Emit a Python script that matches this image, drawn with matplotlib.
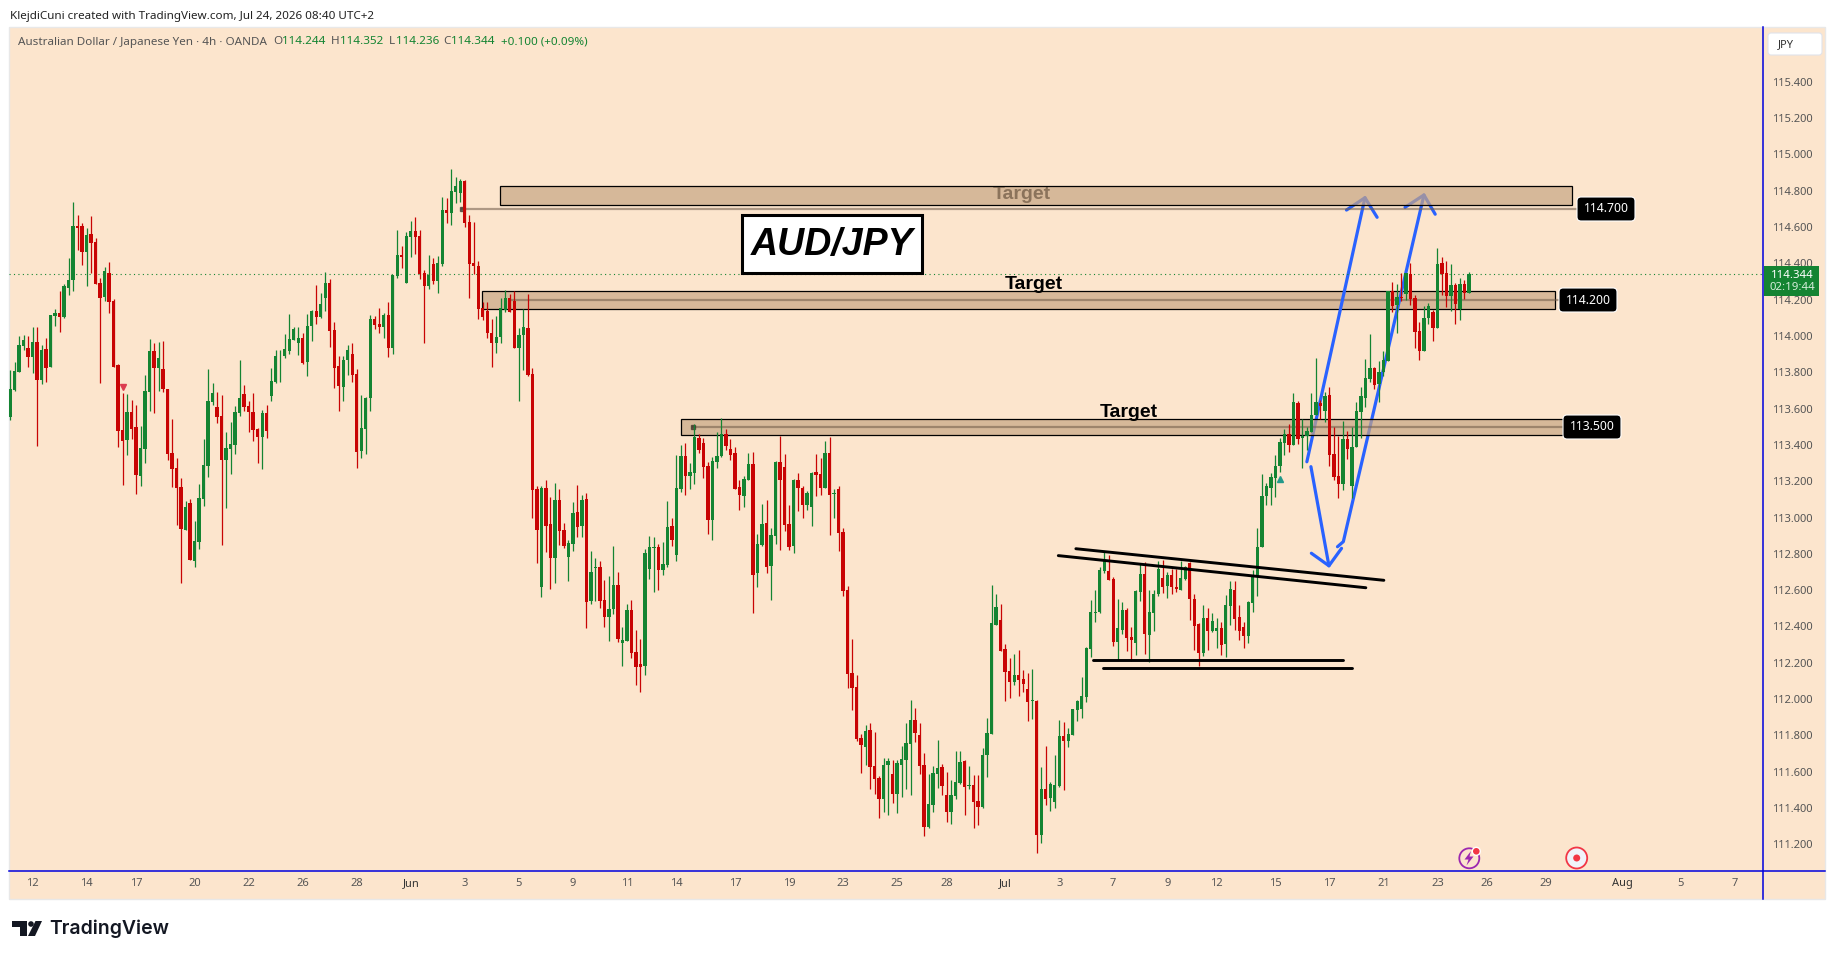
import matplotlib
matplotlib.use('Agg')
import matplotlib.pyplot as plt
from matplotlib.patches import Rectangle, FancyBboxPatch, Circle, Polygon

# OHLC, one value per bar
opens = [113.555,113.70,113.803,113.945,113.933,113.884,113.967,113.757,113.928,113.829,114.11,114.126,114.104,114.264,114.308,
114.606,114.606,114.462,114.562,114.517,114.292,114.214,114.347,114.192,113.840,113.482,113.427,113.581,113.498,113.228,
113.377,113.691,113.917,113.823,113.818,113.708,113.355,113.272,113.168,112.931,113.079,112.760,112.865,113.102,113.283,
113.636,113.608,113.559,113.316,113.377,113.399,113.575,113.680,113.614,113.581,113.487,113.443,113.576,113.670,113.747,
113.888,113.890,113.918,113.978,113.962,113.989,113.857,114.055,114.138,114.105,114.210,114.292,114.033,113.835,113.719,
113.868,113.901,113.791,113.367,113.488,113.659,114.094,114.066,114.050,114.116,113.934,114.331,114.447,114.292,114.546,
114.579,114.551,114.347,114.276,114.397,114.303,114.397,114.695,114.678,114.794,114.788,114.854,114.628,114.403,114.386,
114.155,114.138,114.017,113.962,113.995,114.144,114.210,114.193,113.934,114.006,114.044,113.791,113.157,112.617,113.163,
112.964,112.777,113.096,112.931,112.782,112.854,113.030,112.953,113.102,112.540,112.722,112.727,112.545,112.452,112.496,
112.628,112.309,112.320,112.490,112.259,112.193,112.182,112.716,112.832,112.837,112.711,112.738,112.953,112.793,113.157,
113.339,113.229,113.245,113.438,113.410,113.284,112.986,113.306,113.339,113.460,113.377,113.355,113.168,113.119,113.207,
113.295,112.694,112.848,112.970,112.733,112.898,113.306,113.278,112.964,112.843,113.207,113.163,113.069,113.058,113.251,
113.240,113.163,113.355,113.129,113.157,112.920,112.600,112.143,112.066,111.785,111.735,111.829,111.631,111.564,111.449,
111.636,111.587,111.476,111.636,111.664,111.752,111.884,111.801,111.636,111.294,111.416,111.587,111.625,111.471,111.377,
111.465,111.537,111.658,111.520,111.526,111.438,111.405,111.691,111.807,112.408,112.436,112.275,112.154,112.093,112.132,
112.110,112.055,111.989,111.989,111.250,111.504,111.454,111.432,111.520,111.796,111.768,111.801,111.939,111.945,112.011,
112.276,112.474,112.480,112.706,112.706,112.661,112.314,112.380,112.490,112.341,112.308,112.589,112.688,112.352,112.473,
112.578,112.666,112.622,112.683,112.617,112.600,112.661,112.749,112.551,112.413,112.253,112.446,112.374,112.374,112.391,
112.303,112.512,112.600,112.451,112.396,112.347,112.529,112.672,112.838,113.119,113.163,113.218,113.284,113.411,113.460,
113.400,113.631,113.438,113.449,113.471,113.565,113.631,113.587,113.675,113.350,113.229,113.185,113.433,113.174,113.389,
113.581,113.658,113.763,113.824,113.736,113.802,113.862,114.248,114.171,114.215,114.231,114.342,114.209,114.028,113.917,
114.099,114.132,114.044,114.402,114.347,114.220,114.281,114.147,114.287,114.237]
highs = [113.812,113.856,114.00,114.005,114.00,114.049,114.049,113.95,113.989,114.115,114.148,114.248,114.286,114.429,114.738,
114.666,114.622,114.595,114.661,114.540,114.319,114.380,114.407,114.203,113.845,113.686,113.680,113.647,113.619,113.504,
113.785,113.983,113.961,113.967,113.972,113.708,113.542,113.327,113.217,113.090,113.101,112.980,113.184,113.432,113.818,
113.741,113.691,113.675,113.471,113.526,113.614,113.867,113.730,113.641,113.686,113.493,113.592,113.620,113.824,113.923,
113.923,114.011,114.121,114.050,114.050,114.017,114.121,114.144,114.281,114.237,114.353,114.314,114.077,113.890,113.890,
113.951,113.962,113.819,113.675,113.664,114.116,114.110,114.155,114.127,114.188,114.336,114.584,114.496,114.573,114.634,
114.656,114.584,114.364,114.447,114.430,114.441,114.766,114.761,114.920,114.876,114.865,114.860,114.667,114.628,114.414,
114.188,114.188,114.094,114.110,114.210,114.254,114.232,114.248,114.044,114.149,114.232,113.824,113.174,113.174,113.207,
113.113,113.190,113.157,112.970,112.876,113.085,113.179,113.124,113.135,112.815,112.777,112.760,112.656,112.678,112.843,
112.700,112.397,112.523,112.545,112.380,112.331,112.827,112.898,112.893,112.854,112.865,113.091,112.997,113.344,113.400,
113.410,113.300,113.515,113.460,113.438,113.306,113.333,113.471,113.548,113.488,113.432,113.388,113.207,113.229,113.355,
113.361,112.909,113.074,113.096,112.942,113.311,113.449,113.350,113.069,113.212,113.245,113.174,113.146,113.251,113.350,
113.328,113.421,113.443,113.157,113.174,112.942,112.622,112.330,112.132,111.807,111.856,111.868,111.818,111.575,111.675,
111.675,111.664,111.664,111.741,111.867,111.994,111.950,111.868,111.702,111.587,111.631,111.774,111.642,111.598,111.553,
111.713,111.713,111.664,111.631,111.581,111.581,111.730,111.895,112.628,112.579,112.524,112.303,112.226,112.248,112.270,
112.160,112.143,112.165,111.994,111.625,111.741,111.542,111.691,111.884,111.873,111.840,111.945,111.994,112.121,112.286,
112.546,112.601,112.728,112.810,112.794,112.672,112.551,112.534,112.501,112.396,112.600,112.749,112.754,112.600,112.600,
112.760,112.765,112.699,112.716,112.716,112.760,112.732,112.754,112.578,112.418,112.517,112.501,112.473,112.446,112.424,
112.573,112.650,112.650,112.517,112.424,112.540,112.710,112.942,113.240,113.190,113.245,113.344,113.438,113.488,113.515,
113.686,113.642,113.543,113.499,113.686,113.879,113.647,113.691,113.719,113.499,113.449,113.532,113.477,113.499,113.636,
113.719,113.873,114.011,113.829,113.862,113.917,114.248,114.298,114.287,114.347,114.347,114.402,114.226,114.077,114.165,
114.182,114.143,114.485,114.435,114.413,114.397,114.292,114.320,114.309,114.352]
lows = [113.537,113.697,113.80,113.922,113.829,113.796,113.394,113.735,113.746,113.829,114.055,114.022,114.099,114.225,114.248,
114.473,114.391,114.275,114.347,114.286,113.741,114.192,114.126,113.829,113.388,113.179,113.344,113.432,113.129,113.173,
113.300,113.586,113.575,113.697,113.691,113.316,113.168,112.958,112.639,112.931,112.765,112.727,112.826,113.063,113.223,
113.619,113.520,112.848,113.052,113.239,113.349,113.559,113.586,113.471,113.421,113.300,113.267,113.438,113.642,113.741,
113.747,113.879,113.901,113.978,113.896,113.846,113.780,113.973,114.066,114.099,114.138,113.940,113.714,113.587,113.642,
113.785,113.747,113.273,113.328,113.350,113.587,114.039,114.017,113.989,113.885,113.901,114.320,114.375,114.292,114.436,
114.452,114.314,113.962,114.259,114.287,114.237,114.386,114.623,114.612,114.733,114.739,114.601,114.210,114.342,114.094,
114.088,113.989,113.830,113.907,113.962,114.133,114.133,113.934,113.642,113.813,113.780,112.997,112.749,112.562,112.810,
112.606,112.639,112.849,112.832,112.650,112.815,112.893,112.893,112.391,112.523,112.540,112.501,112.397,112.320,112.468,
112.314,112.182,112.320,112.226,112.077,112.039,112.132,112.661,112.589,112.601,112.683,112.727,112.843,112.760,113.140,
113.124,113.157,113.185,113.355,113.218,112.909,112.876,113.273,113.333,113.372,113.317,113.157,113.041,113.058,113.207,
112.474,112.617,112.843,112.694,112.545,112.854,112.821,112.926,112.821,112.804,113.036,112.997,113.041,112.953,113.118,
113.124,113.163,112.904,112.997,112.815,112.567,112.060,111.939,111.768,111.592,111.636,111.504,111.476,111.344,111.377,
111.361,111.427,111.372,111.460,111.504,111.471,111.763,111.587,111.245,111.289,111.377,111.509,111.471,111.322,111.311,
111.449,111.531,111.361,111.504,111.289,111.306,111.399,111.570,111.807,112.408,112.264,111.989,112.005,112.077,112.016,
112.038,111.879,111.890,111.151,111.206,111.416,111.383,111.399,111.515,111.498,111.735,111.801,111.879,111.895,111.983,
112.232,112.425,112.474,112.695,112.656,112.292,112.214,112.358,112.264,112.209,112.242,112.540,112.248,112.203,112.374,
112.567,112.584,112.556,112.578,112.589,112.600,112.655,112.435,112.270,112.181,112.236,112.270,112.369,112.281,112.242,
112.231,112.407,112.380,112.325,112.281,112.308,112.479,112.567,112.838,113.069,113.069,113.113,113.251,113.344,113.361,
113.400,113.405,113.273,113.372,113.471,113.565,113.543,113.526,113.284,113.207,113.108,113.151,113.322,113.108,113.389,
113.438,113.609,113.747,113.708,113.636,113.780,113.862,114.132,114.017,114.193,114.198,114.171,113.934,113.868,113.917,
114.066,113.973,114.044,114.226,114.160,114.138,114.066,114.088,114.204,114.236]
closes = [113.706,113.807,113.95,113.978,113.884,113.967,113.757,113.922,113.823,114.115,114.126,114.104,114.275,114.308,114.606,
114.595,114.462,114.556,114.512,114.286,114.209,114.358,114.187,113.829,113.476,113.421,113.581,113.487,113.234,113.383,
113.697,113.917,113.823,113.878,113.708,113.349,113.267,113.162,112.936,113.057,112.765,112.870,113.107,113.289,113.641,
113.686,113.553,113.316,113.383,113.405,113.581,113.658,113.608,113.581,113.482,113.443,113.575,113.477,113.752,113.890,
113.892,113.929,113.984,114.039,113.989,113.852,114.055,114.138,114.105,114.177,114.292,114.028,113.824,113.725,113.868,
113.923,113.785,113.361,113.493,113.659,114.094,114.061,114.050,114.116,113.934,114.336,114.447,114.436,114.551,114.579,
114.546,114.342,114.276,114.336,114.303,114.403,114.695,114.678,114.799,114.827,114.854,114.623,114.397,114.386,114.149,
114.105,114.017,113.962,113.995,114.155,114.210,114.133,113.934,114.006,114.050,113.785,113.152,112.931,113.163,112.953,
112.777,113.096,112.926,112.843,112.860,113.025,112.948,113.096,112.534,112.700,112.727,112.540,112.452,112.496,112.628,
112.331,112.326,112.490,112.253,112.176,112.176,112.804,112.837,112.837,112.711,112.744,112.948,112.876,113.163,113.339,
113.229,113.251,113.443,113.372,113.278,112.986,113.311,113.339,113.460,113.394,113.344,113.157,113.124,113.212,113.295,
112.683,112.854,112.964,112.727,112.904,113.306,113.207,112.959,112.837,113.207,113.163,113.069,113.135,113.245,113.234,
113.163,113.355,113.124,113.135,112.915,112.595,112.138,112.060,111.779,111.746,111.823,111.625,111.559,111.449,111.636,
111.658,111.476,111.647,111.669,111.757,111.884,111.812,111.631,111.294,111.421,111.592,111.620,111.520,111.377,111.471,
111.542,111.653,111.515,111.526,111.432,111.405,111.691,111.812,112.419,112.507,112.264,112.149,112.093,112.132,112.104,
112.082,111.983,111.994,111.250,111.504,111.449,111.531,111.526,111.796,111.768,111.807,111.945,111.989,112.016,112.281,
112.480,112.480,112.711,112.761,112.656,112.314,112.391,112.490,112.336,112.325,112.595,112.688,112.358,112.479,112.578,
112.716,112.617,112.683,112.617,112.606,112.666,112.727,112.551,112.402,112.253,112.446,112.374,112.429,112.391,112.297,
112.518,112.606,112.440,112.374,112.347,112.534,112.677,112.837,113.119,113.174,113.223,113.284,113.416,113.460,113.400,
113.636,113.433,113.449,113.477,113.565,113.636,113.614,113.669,113.344,113.223,113.185,113.433,113.378,113.389,113.587,
113.669,113.769,113.824,113.730,113.802,113.868,114.248,114.165,114.215,114.209,114.347,114.204,114.022,113.917,114.099,
114.165,114.044,114.397,114.342,114.220,114.281,114.176,114.287,114.237,114.344]

price_ticks = [111.2,111.4,111.6,111.8,112.0,112.2,112.4,112.6,112.8,113.0,113.2,113.4,113.6,113.8,114.0,114.2,114.4,114.6,114.8,115.0,115.2,115.4]
date_pos = [5,17,28,41,53,65,77,89,101,113,125,137,148,161,173,185,197,208,221,233,245,257,268,281,293,305,317,328,341,358,371,383]
date_labels = ['12','14','17','20','22','26','28','Jun','3','5','9','11','14','17','19','23','25','28','Jul','3','7','9','12','15','17','21','23','26','29','Aug','5','7']

# drawn zones: first bar, last bar, top, bottom, level, line start, line end
zone_700 = [108.8,346.9,114.826,114.722,114.70,100.4,347.8]
zone_200 = [104.8,343.0,114.248,114.149,114.20,111.5,343.8]
zone_500 = [149.0,344.9,113.543,113.455,113.50,151.7,344.9]

trend_a = ([236.7,305.1],[112.828,112.654])
trend_b = ([232.8,301.1],[112.790,112.613])
flat_a = ([240.6,296.1],[112.213,112.213])
flat_b = ([242.7,298.1],[112.169,112.169])

up_1 = ([288.0,300.9],[113.307,114.762])
up_1_head = ([296.8,300.9,303.6],[114.694,114.762,114.654])
down_1 = ([288.9,292.9],[113.280,112.734])
down_1_head = ([289.0,292.9,295.7],[112.803,112.734,112.830])
up_2 = ([294.8,296.1,314.0],[112.839,112.867,114.777])
up_2_head = ([309.8,314.0,316.5],[114.709,114.777,114.671])

GREEN = '#148432'
RED = '#c80404'
BG = '#fce5cd'
BLUE = '#0000dd'
ARROW = '#2962ff'
FONT = 'Noto Sans'
plt.rcParams['font.family'] = FONT

W, H = 1835, 959
fig = plt.figure(figsize=(W / 100, H / 100), dpi=100, facecolor='white')


def pixel_axes(z):
    a = fig.add_axes([0, 0, 1, 1], zorder=z)
    a.set_xlim(0, W)
    a.set_ylim(H, 0)
    a.axis('off')
    return a


back = pixel_axes(0)
back.add_patch(Rectangle((9, 27), 1816, 872, fc=BG, ec='#e8e8e8', lw=1))
back.text(10, 16, 'KlejdiCuni created with TradingView.com, Jul 24, 2026 08:40 UTC+2',
          fontsize=8.4, color='#222222', va='center')

# chart area
ax = fig.add_axes([9 / W, 1 - 871 / H, (1763 - 9) / W, (871 - 27) / H], zorder=1)
ax.patch.set_alpha(0)
ax.set_xlim((9 - 10) / 4.503, (1763 - 10) / 4.503)
ax.set_ylim(114 - (871 - 336) / 181.5, 114 + (336 - 27) / 181.5)

xs = list(range(len(closes)))
colors = [GREEN if c >= o else RED for o, c in zip(opens, closes)]
tops = [max(o, c) for o, c in zip(opens, closes)]
bots = [min(o, c) for o, c in zip(opens, closes)]
ax.vlines(xs, lows, highs, colors=colors, lw=0.9, zorder=3)
ax.bar(xs, [t - b for t, b in zip(tops, bots)], bottom=bots, width=0.74, color=colors, lw=0, zorder=3.1)

ax.axhline(closes[-1], color=GREEN, lw=0.8, ls=(0, (1, 3)), zorder=2)

# arrows sit under the two translucent zones
for seg in [up_1, up_1_head, down_1, down_1_head, up_2, up_2_head]:
    ax.plot(seg[0], seg[1], color=ARROW, lw=2.3, solid_capstyle='round', solid_joinstyle='round', zorder=1.5)

ax.text(224.7, 114.777, 'Target', fontsize=14, fontweight='bold', family='Liberation Sans',
        ha='center', va='center', color='black', zorder=1.6)

for zone, z in [(zone_700, 2.5), (zone_200, 1), (zone_500, 2.5)]:
    fill = (199 / 255, 165 / 255, 131 / 255, 0.7) if z > 2 else '#d7b899'
    ax.add_patch(Rectangle((zone[0], zone[3]), zone[1] - zone[0], zone[2] - zone[3],
                           fc=fill, ec='black', lw=0.9, zorder=z))
    ax.plot([zone[5], zone[6]], [zone[4], zone[4]], color='#6e5a48', alpha=0.55, lw=1.6, zorder=z + 0.1)
    if zone is not zone_200:
        ax.plot([zone[5]], [zone[4]], marker='s', ms=3, color='#3a3028', alpha=0.7, zorder=z + 0.1)

ax.text(227.4, 114.281, 'Target', fontsize=14, fontweight='bold', family='Liberation Sans',
        ha='center', va='center', color='black', zorder=4)
ax.text(248.5, 113.576, 'Target', fontsize=14, fontweight='bold', family='Liberation Sans',
        ha='center', va='center', color='black', zorder=4)

for line in [trend_a, trend_b, flat_a, flat_b]:
    ax.plot(line[0], line[1], color='black', lw=2.1, solid_capstyle='round', zorder=4)

ax.plot([25], [113.72], marker='v', ms=5, color='#dc3c50', zorder=4)
ax.plot([282], [113.214], marker='^', ms=5, color='#22998a', zorder=4)

for s in ax.spines.values():
    s.set_visible(False)
ax.yaxis.tick_right()
ax.set_yticks(price_ticks, [f'{p:.3f}' for p in price_ticks])
ax.set_xticks(date_pos, date_labels)
ax.tick_params(axis='y', length=0, pad=6.5, labelsize=8, labelcolor='#555555')
ax.tick_params(axis='x', length=0, pad=5, labelsize=8, labelcolor='#555555')
for lab in ax.get_xticklabels():
    if lab.get_text() in ('Jun', 'Jul', 'Aug'):
        lab.set_color('#333333')

# everything that sits on top of the chart, in image pixels
top = pixel_axes(2)
top.plot([9, 1825], [871, 871], color=BLUE, lw=1.1)
top.plot([1763, 1763], [27, 899], color=BLUE, lw=1.1)

top.text(18, 42, 'Australian Dollar / Japanese Yen · 4h · OANDA', fontsize=8.4, color='#555555', va='center')
for x, s, col in [(273.5, 'O', '#555555'), (282, '114.244', GREEN), (331, 'H', '#555555'), (340, '114.352', GREEN),
                  (388.5, 'L', '#555555'), (396, '114.236', GREEN), (443.5, 'C', '#555555'), (451, '114.344', GREEN),
                  (500.5, '+0.100 (+0.09%)', GREEN)]:
    top.text(x, 42, s, fontsize=8.4, color=col, va='center')

for x0, x1, y0, y1, s in [(1577, 1635, 197, 221, '114.700'), (1559, 1617, 288, 312, '114.200'), (1563, 1621, 415, 439, '113.500')]:
    top.add_patch(FancyBboxPatch((x0 + 4, y0 + 4), x1 - x0 - 8, y1 - y0 - 8, boxstyle='round,pad=4',
                                 fc='black', ec='white', lw=0.8))
    top.text((x0 + x1) / 2, (y0 + y1) / 2, s, color='white', fontsize=8.8, fontweight='bold', ha='center', va='center')

top.add_patch(Rectangle((1764, 266), 55, 30, fc=GREEN, ec='none'))
top.text(1792, 275, '114.344', color='white', fontsize=8.2, fontweight='bold', ha='center', va='center')
top.text(1792, 287, '02:19:44', color='#d5ecd9', fontsize=8.2, ha='center', va='center')

top.add_patch(FancyBboxPatch((1771, 36), 48, 16, boxstyle='round,pad=3', fc='white', ec='#e0e3eb', lw=0.8))
top.text(1786, 44.5, 'JPY', color='#333333', fontsize=8, ha='center', va='center')

top.add_patch(Rectangle((742, 215), 180, 58, fc='white', ec='black', lw=2.2))
top.text(832, 245, 'AUD/JPY', fontsize=27, fontweight='bold', style='italic', family='Liberation Sans',
         ha='center', va='center', color='black')

top.add_patch(Circle((1469.3, 858.3), 10, fc=BG, ec='#9c27b0', lw=1.3))
top.add_patch(Polygon([(1471, 851), (1464.5, 859.5), (1468.5, 859.5), (1466.5, 865.5), (1473.5, 856.5), (1469.5, 856.5)],
                      fc='#9c27b0', ec='none'))
top.add_patch(Circle((1476.3, 851.3), 4, fc='#f23645', ec='white', lw=1))
top.add_patch(Circle((1576.7, 858), 10.5, fc='#f0f3fa', ec='#f23645', lw=1.3))
top.add_patch(Circle((1576.7, 858), 3.5, fc='#f23645', ec='none'))

# TradingView logo
top.add_patch(Polygon([(12, 921), (27, 921), (27, 936), (19.5, 936), (19.5, 927), (12, 927)], fc='#131722', ec='none'))
top.add_patch(Circle((31, 924), 2.8, fc='#131722', ec='none'))
top.add_patch(Polygon([(35.5, 921), (42, 921), (35, 936), (28, 936)], fc='#131722', ec='none'))
top.text(49, 929, 'TradingView', fontsize=14, fontweight='semibold', family='Inter', color='#131722', va='center')

fig.savefig('out.png', dpi=100)
